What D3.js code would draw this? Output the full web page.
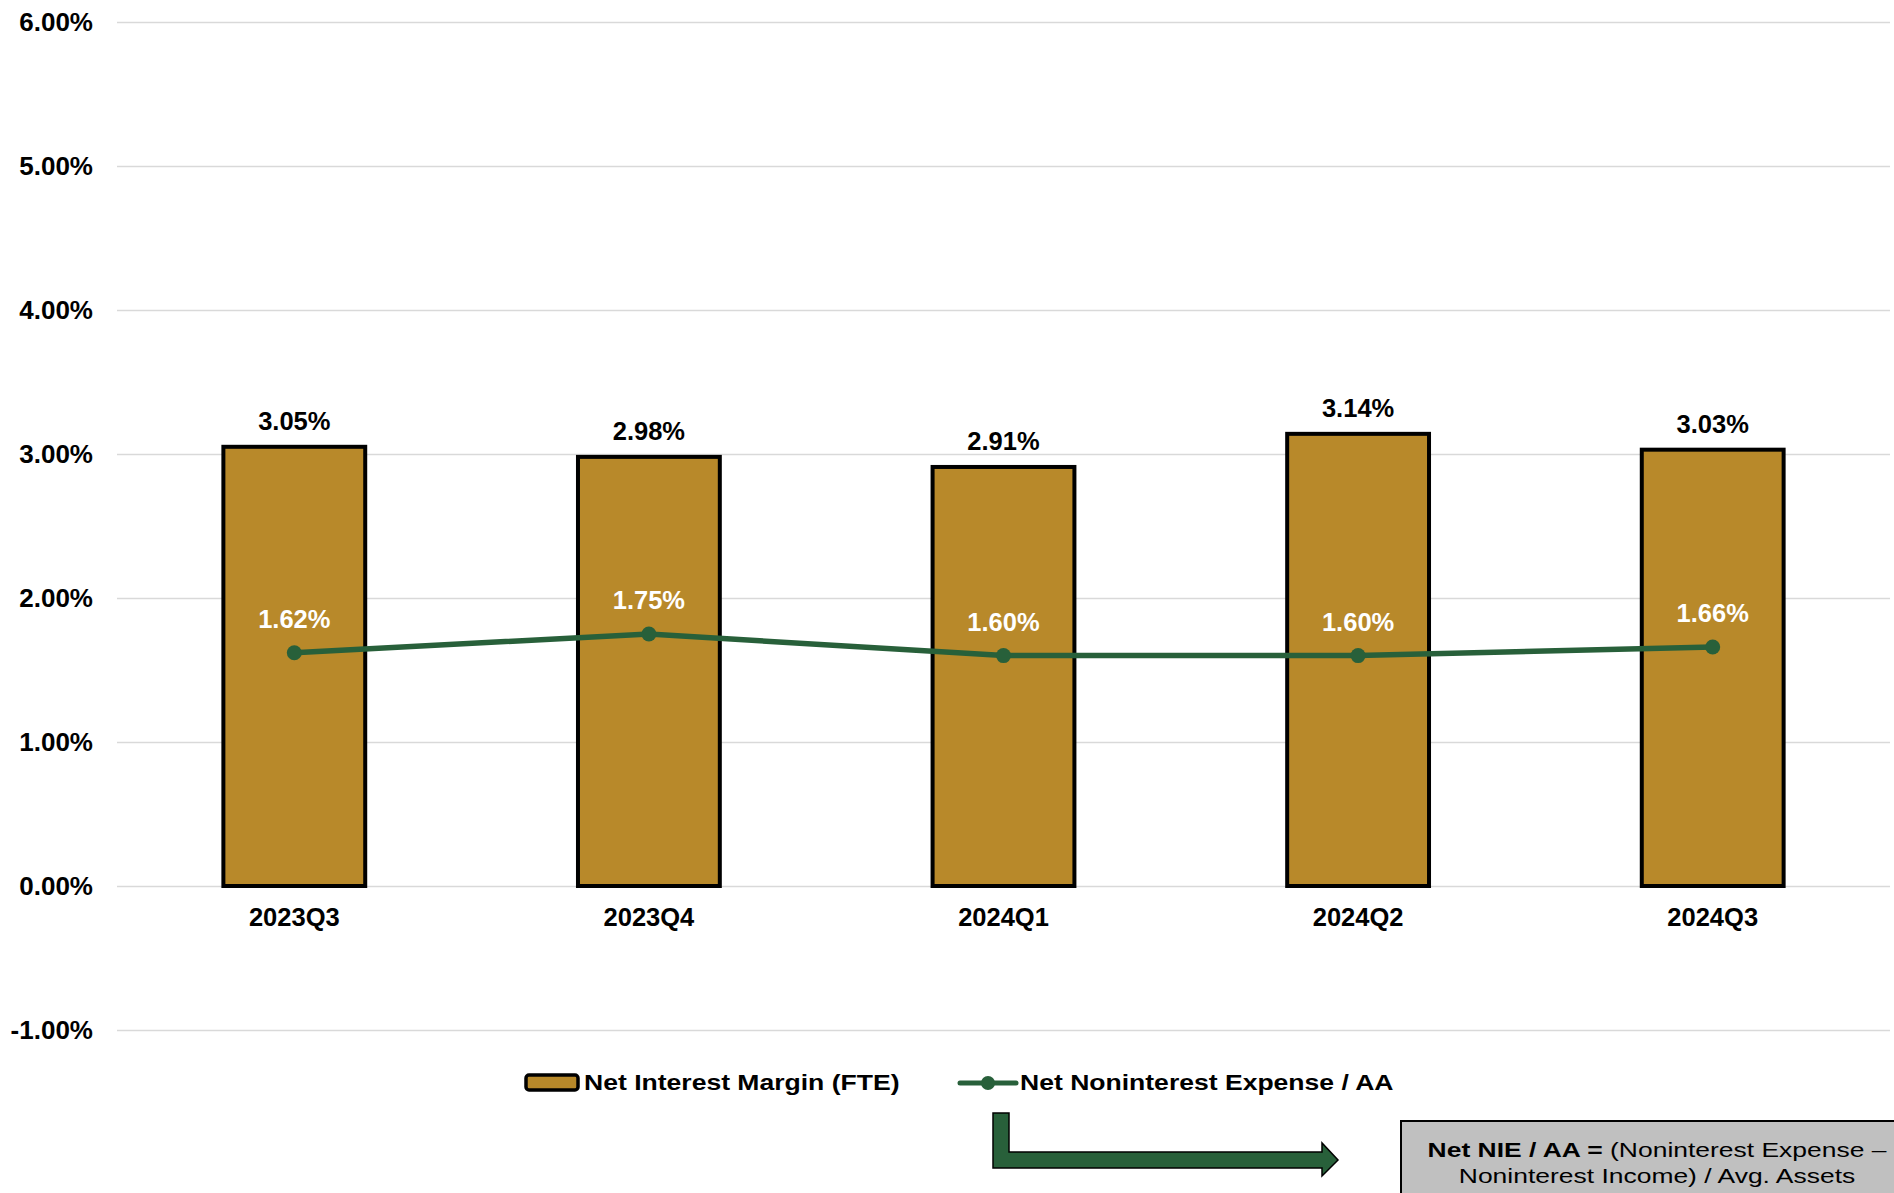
<!DOCTYPE html>
<html>
<head>
<meta charset="utf-8">
<script src="https://cdn.jsdelivr.net/npm/d3@7"></script>
<style>
  body { margin: 0; background: #fff; }
  svg { display: block; font-family: "Liberation Sans", Arial, sans-serif; }
</style>
</head>
<body>
<svg id="chart" width="1894" height="1193"></svg>
<script>
// Data
const quarters = ['2023Q3', '2023Q4', '2024Q1', '2024Q2', '2024Q3'];
const nimValues = [3.05, 2.98, 2.91, 3.14, 3.03];
const nieValues = [1.62, 1.75, 1.60, 1.60, 1.66];
const yTicks = [-1, 0, 1, 2, 3, 4, 5, 6];
const legendLabels = ['Net Interest Margin (FTE)', 'Net Noninterest Expense / AA'];
const noteBold = 'Net NIE / AA =';
const noteLine1 = ' (Noninterest Expense \u2013';
const noteLine2 = 'Noninterest Income) / Avg. Assets';

const colors = { bar: '#B8892A', line: '#28603A', grid: '#D9D9D9', box: '#C0C0C0' };

function renderChart() {
  const svg = d3.select('#chart');
  const plot = { left: 117, right: 1890, top: 22, bottom: 1030 };

  const xScale = d3.scaleBand()
    .domain(quarters)
    .range([plot.left, plot.right])
    .paddingInner(0.6)
    .paddingOuter(0.3);

  const yScale = d3.scaleLinear()
    .domain([-1, 6])
    .range([plot.bottom, plot.top]);

  const pct = d => d.toFixed(2) + '%';

  // Grid lines + Y axis labels
  const yAxis = svg.append('g')
    .attr('transform', `translate(${plot.left},0)`)
    .call(d3.axisLeft(yScale).tickValues(yTicks).tickSize(-(plot.right - plot.left)).tickPadding(24).tickFormat(pct));
  yAxis.select('.domain').remove();
  yAxis.selectAll('.tick line').attr('stroke', colors.grid).attr('stroke-width', 1.6);
  yAxis.selectAll('.tick text')
    .attr('fill', '#000')
    .style('font-size', '26px')
    .style('font-weight', 'bold')
    .style('font-family', '"Liberation Sans", Arial, sans-serif');

  // Bars
  svg.selectAll('.bar')
    .data(nimValues)
    .enter()
    .append('rect')
    .attr('class', 'bar')
    .attr('x', (d, i) => xScale(quarters[i]))
    .attr('y', d => yScale(d))
    .attr('width', xScale.bandwidth())
    .attr('height', d => yScale(0) - yScale(d))
    .attr('fill', colors.bar)
    .attr('stroke', '#000')
    .attr('stroke-width', 4);

  // Bar labels
  svg.selectAll('.bar-label')
    .data(nimValues)
    .enter()
    .append('text')
    .attr('x', (d, i) => xScale(quarters[i]) + xScale.bandwidth() / 2)
    .attr('y', d => yScale(d) - 17)
    .attr('text-anchor', 'middle')
    .style('font-size', '25.5px')
    .style('font-weight', 'bold')
    .text(pct);

  // X labels
  svg.append('g')
    .attr('transform', `translate(0,${yScale(0)})`)
    .call(d3.axisBottom(xScale).tickSize(0).tickPadding(22))
    .call(g => g.select('.domain').remove())
    .selectAll('text')
    .attr('fill', '#000')
    .style('font-size', '25.5px')
    .style('font-weight', 'bold')
    .style('font-family', '"Liberation Sans", Arial, sans-serif');

  // Line
  const cx = (d, i) => xScale(quarters[i]) + xScale.bandwidth() / 2;
  const line = d3.line().x(cx).y(d => yScale(d));

  svg.append('path')
    .datum(nieValues)
    .attr('d', line)
    .attr('fill', 'none')
    .attr('stroke', colors.line)
    .attr('stroke-width', 5.5);

  svg.selectAll('.dot')
    .data(nieValues)
    .enter()
    .append('circle')
    .attr('cx', cx)
    .attr('cy', d => yScale(d))
    .attr('r', 7.5)
    .attr('fill', colors.line);

  svg.selectAll('.line-label')
    .data(nieValues)
    .enter()
    .append('text')
    .attr('x', cx)
    .attr('y', d => yScale(d) - 25)
    .attr('text-anchor', 'middle')
    .attr('fill', '#fff')
    .style('font-size', '25.5px')
    .style('font-weight', 'bold')
    .text(pct);

  // Legend
  const legend = svg.append('g');
  legend.append('rect')
    .attr('x', 526).attr('y', 1075).attr('width', 52).attr('height', 15)
    .attr('rx', 3)
    .attr('fill', colors.bar).attr('stroke', '#000').attr('stroke-width', 3.5);
  legend.append('text')
    .attr('transform', 'translate(584,1090) scale(1.18,1)')
    .style('font-size', '22.5px').style('font-weight', 'bold')
    .text(legendLabels[0]);

  legend.append('line')
    .attr('x1', 960).attr('x2', 1016).attr('y1', 1083).attr('y2', 1083)
    .attr('stroke', colors.line).attr('stroke-width', 5).attr('stroke-linecap', 'round');
  legend.append('circle')
    .attr('cx', 988).attr('cy', 1083).attr('r', 7).attr('fill', colors.line);
  legend.append('text')
    .attr('transform', 'translate(1020,1090) scale(1.18,1)')
    .style('font-size', '22.5px').style('font-weight', 'bold')
    .text(legendLabels[1]);

  // Bent arrow
  const arrow = d3.path();
  arrow.moveTo(993, 1113);
  arrow.lineTo(1009, 1113);
  arrow.lineTo(1009, 1152);
  arrow.lineTo(1322, 1152);
  arrow.lineTo(1322, 1143);
  arrow.lineTo(1338, 1160);
  arrow.lineTo(1322, 1176);
  arrow.lineTo(1322, 1168);
  arrow.lineTo(993, 1168);
  arrow.closePath();
  svg.append('path')
    .attr('d', arrow.toString())
    .attr('fill', colors.line)
    .attr('stroke', '#000')
    .attr('stroke-width', 1.5);

  // Note box
  svg.append('rect')
    .attr('x', 1401).attr('y', 1121).attr('width', 520).attr('height', 100)
    .attr('fill', colors.box).attr('stroke', '#000').attr('stroke-width', 2);

  const note = svg.append('g')
    .attr('transform', 'translate(1657,0) scale(1.26,1)')
    .style('font-size', '21px');
  const t1 = note.append('text').attr('x', 0).attr('y', 1157).attr('text-anchor', 'middle');
  t1.append('tspan').style('font-weight', 'bold').text(noteBold);
  t1.append('tspan').text(noteLine1);
  note.append('text').attr('x', 0).attr('y', 1183).attr('text-anchor', 'middle').text(noteLine2);
}

renderChart();
</script>
</body>
</html>
